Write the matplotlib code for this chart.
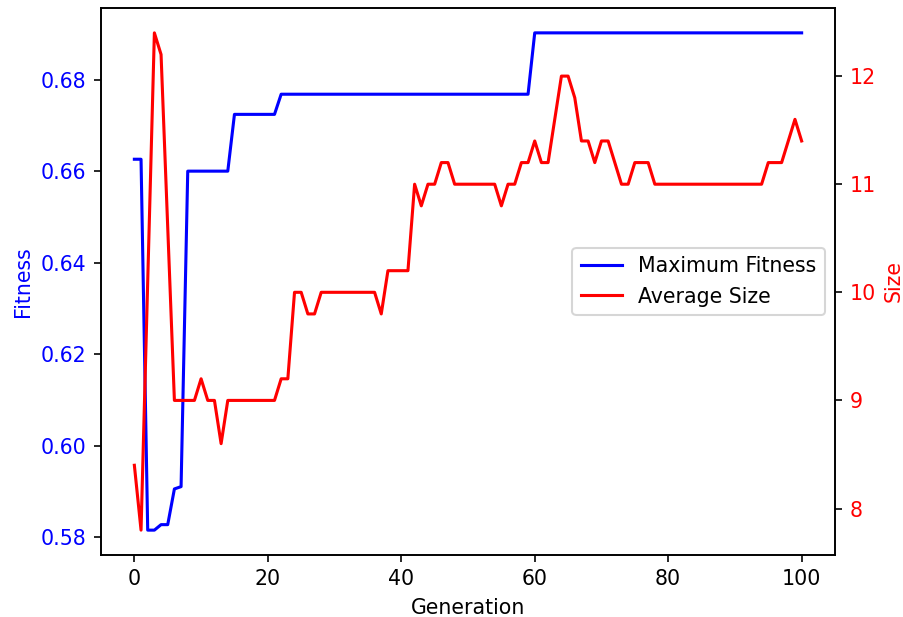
import matplotlib
matplotlib.use("Agg")
import matplotlib.pyplot as plt

# geracoes 0..100
geracoes = list(range(101))

# fitness maxima por geracao
fitness_max = ([0.6626, 0.6626, 0.5816, 0.5816, 0.5828, 0.5828, 0.5906, 0.5911]
               + [0.6600] * 7
               + [0.6724] * 7
               + [0.6768] * 38
               + [0.6902] * 41)

# tamanho medio por geracao
tamanho_medio = [
    8.4, 7.8, 10.1, 12.4, 12.2, 10.6, 9.0, 9.0, 9.0, 9.0,
    9.2, 9.0, 9.0, 8.6, 9.0, 9.0, 9.0, 9.0, 9.0, 9.0,
    9.0, 9.0, 9.2, 9.2, 10.0, 10.0, 9.8, 9.8, 10.0, 10.0,
    10.0, 10.0, 10.0, 10.0, 10.0, 10.0, 10.0, 9.8, 10.2, 10.2,
    10.2, 10.2, 11.0, 10.8, 11.0, 11.0, 11.2, 11.2, 11.0, 11.0,
    11.0, 11.0, 11.0, 11.0, 11.0, 10.8, 11.0, 11.0, 11.2, 11.2,
    11.4, 11.2, 11.2, 11.6, 12.0, 12.0, 11.8, 11.4, 11.4, 11.2,
    11.4, 11.4, 11.2, 11.0, 11.0, 11.2, 11.2, 11.2, 11.0, 11.0,
    11.0, 11.0, 11.0, 11.0, 11.0, 11.0, 11.0, 11.0, 11.0, 11.0,
    11.0, 11.0, 11.0, 11.0, 11.0, 11.2, 11.2, 11.2, 11.4, 11.6,
    11.4,
]

fig, ax1 = plt.subplots(figsize=(903 / 148, 617 / 148), dpi=148)
fig.subplots_adjust(left=101 / 903, right=835 / 903, top=1 - 8 / 617, bottom=1 - 555 / 617)

linha1, = ax1.plot(geracoes, fitness_max, "b-", label="Maximum Fitness")
ax1.set_xlabel("Generation")
ax1.set_ylabel("Fitness", color="b")
ax1.tick_params(axis="y", labelcolor="b")
ax1.set_xticks([0, 20, 40, 60, 80, 100])

ax2 = ax1.twinx()
linha2, = ax2.plot(geracoes, tamanho_medio, "r-", label="Average Size")
ax2.set_ylabel("Size", color="r")
ax2.tick_params(axis="y", labelcolor="r")

ax2.legend([linha1, linha2], [linha1.get_label(), linha2.get_label()], loc="center right")

plt.savefig("out.png", dpi=148)
